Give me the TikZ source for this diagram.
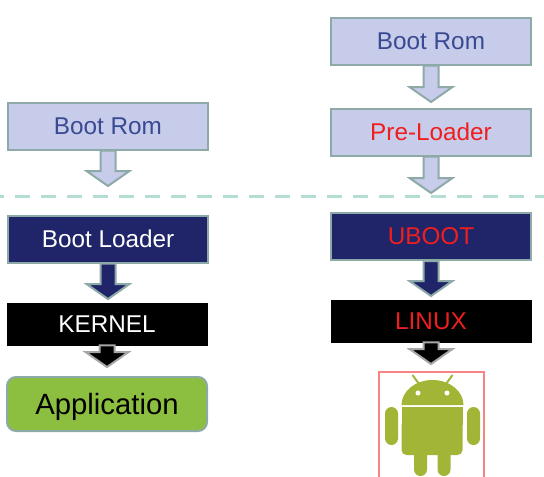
\documentclass[tikz,border=0pt]{standalone}
\usepackage{fontspec}
\setmainfont{Liberation Sans}
\usetikzlibrary{calc}
\definecolor{romfill}{HTML}{C6CCE9}
\definecolor{romtext}{HTML}{3A4A92}
\definecolor{edgeteal}{HTML}{8DA9A8}
\definecolor{navyfill}{HTML}{1F2568}
\definecolor{appfill}{HTML}{8CBF3F}
\definecolor{droid}{HTML}{A2B536}
\definecolor{dashteal}{HTML}{B4DDD4}
\definecolor{alertred}{HTML}{F01E1E}
\tikzset{
    box/.style={
        rectangle,
        draw=edgeteal,
        line width=2pt,
        minimum width=200pt,
        font=\fontsize{24.3}{26}\selectfont,
    },
    rom/.style={
        box,
        fill=romfill,
        text=romtext,
        minimum height=47pt,
    },
    loader/.style={
        box,
        fill=navyfill,
        text=white,
        minimum height=47pt,
    },
    kernel/.style={
        box,
        draw=black,
        fill=black,
        text=white,
        line width=0.5pt,
        minimum height=42pt,
    },
    app/.style={
        box,
        fill=appfill,
        text=black,
        rounded corners=9pt,
        minimum height=54pt,
        text height=21pt,
        text depth=1pt,
        font=\fontsize{29.3}{31}\selectfont,
    },
    romarrow/.style={
        draw=edgeteal,
        fill=romfill,
        line width=2pt,
    },
    navyarrow/.style={
        romarrow,
        fill=navyfill,
    },
    blackarrow/.style={
        romarrow,
        draw=gray!70,
        fill=black,
    },
    divider/.style={
        draw=dashteal,
        line width=3pt,
        dash pattern=on 15pt off 11pt,
        dash phase=11pt,
    },
    droidpart/.style={
        fill=droid,
    },
}
% block arrow out of the bottom of a box
\newcommand{\blockarrow}[3]{
    \draw[#1] ($(#2.south)+(-7.5,0)$) -- ($(#3)+(-7.5,-15)$) -- ($(#3)+(-21.5,-15)$) -- (#3)
        -- ($(#3)+(21.5,-15)$) -- ($(#3)+(7.5,-15)$) -- ($(#2.south)+(7.5,0)$) -- cycle;
}

\begin{document}
\begin{tikzpicture}[x=1pt,y=-1pt]
    \useasboundingbox (0,0) rectangle (544,477);

    \coordinate (L1) at (108,186);
    \coordinate (L2) at (108,299);
    \coordinate (L3) at (107,367);
    \coordinate (R1) at (431,102);
    \coordinate (R2) at (431,193);
    \coordinate (R3) at (431,296);
    \coordinate (R4) at (431,364);

    \coordinate (D1) at (0,196);
    \coordinate (D2) at (544,196);
    \draw[divider] (D1) -- (D2);

    % left column
    \node [rom] at (108,126) (RomL) {Boot Rom};
    \node [loader] at (108,239) (BootL) {Boot Loader};
    \node [kernel] at (107,324) (KernelL) {KERNEL};
    \node [app] at (107,404) (AppL) {Application};
    \blockarrow{romarrow}{RomL}{L1}
    \blockarrow{navyarrow}{BootL}{L2}
    \blockarrow{blackarrow}{KernelL}{L3}

    % right column
    \node [rom] at (431,41) (RomR) {Boot Rom};
    \node [rom, text=alertred] at (431,132) (PreR) {Pre-Loader};
    \node [loader, text=alertred] at (431,236.5) (UbootR) {UBOOT};
    \node [kernel, text=alertred] at (431,321) (LinuxR) {LINUX};
    \blockarrow{romarrow}{RomR}{R1}
    \blockarrow{romarrow}{PreR}{R2}
    \blockarrow{navyarrow}{UbootR}{R3}
    \blockarrow{blackarrow}{LinuxR}{R4}

    % android, open at the bottom
    \draw[alertred!55, line width=1.4pt] (379,477) -- (379,372) -- (484,372) -- (484,477);
    \draw[droid, line width=2pt] (412.5,375) -- (419,384);
    \draw[droid, line width=2pt] (452.5,375) -- (446,384);
    \fill[droidpart] (401.5,405) arc[start angle=180, end angle=360, x radius=31, y radius=25] -- cycle;
    \fill[white] (418,393) circle[radius=2.5];
    \fill[white] (447,393) circle[radius=2.5];
    \fill[droidpart, rounded corners=5pt] (401.5,420) -- (401.5,455) -- (462.5,455) -- (462.5,420) -- cycle;
    \fill[droidpart] (401.5,407) rectangle (462.5,425);
    \fill[droidpart, rounded corners=6.5pt] (385,407) rectangle (398,445);
    \fill[droidpart, rounded corners=6.5pt] (467,407) rectangle (480,445);
    \fill[droidpart, rounded corners=6.5pt] (414,445) rectangle (427,476);
    \fill[droidpart, rounded corners=6.5pt] (437.5,445) rectangle (450.5,476);
\end{tikzpicture}
\end{document}
